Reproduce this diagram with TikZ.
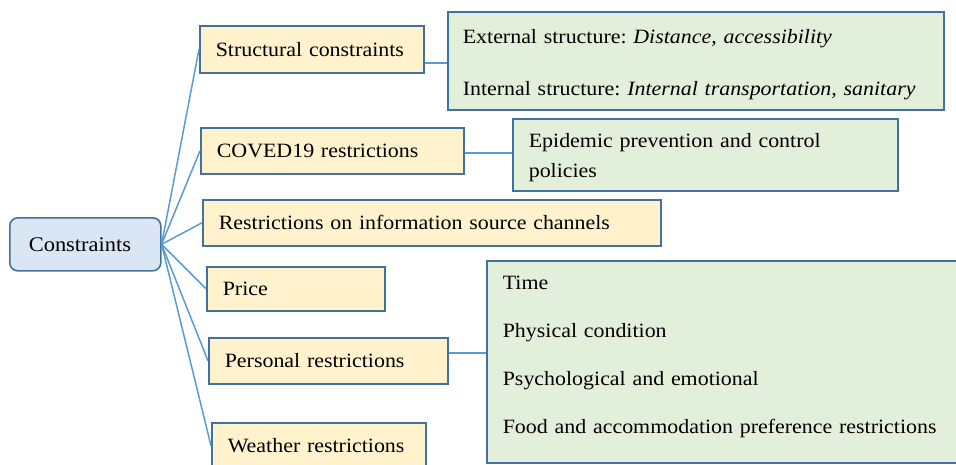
\documentclass[tikz,border=0pt]{standalone}
\usepackage{fontspec}
\setmainfont{Liberation Serif}[FakeStretch=1.08]
\frenchspacing
\definecolor{yfill}{HTML}{FFF2CC}
\definecolor{gfill}{HTML}{E2EFDA}
\definecolor{rootfill}{HTML}{DAE6F4}
\definecolor{boxedge}{HTML}{41719C}
\definecolor{linkblue}{HTML}{5B9BD5}
\begin{document}
\begin{tikzpicture}[x=1pt,y=-1pt,
  box/.style={draw=boxedge, line width=1.6pt, anchor=north west, inner ysep=0pt, inner xsep=16pt, text=black, align=left},
  ybox/.style={box, fill=yfill, font=\fontsize{20.3}{24}\selectfont},
  gbox/.style={box, fill=gfill},
  rootbox/.style={draw=boxedge, line width=1.6pt, fill=rootfill, rounded corners=8pt, anchor=north west, inner ysep=0pt, inner xsep=19pt, align=left, font=\fontsize{20.8}{24}\selectfont},
  link/.style={draw=linkblue, line width=1.5pt}]
\path[use as bounding box] (0,0) rectangle (956,464);
\clip (0,0) rectangle (956,464);

\node[rootbox, text width=113pt, minimum height=53pt] (root) at (9,217) {\mbox{Constraints}};

\node[ybox, text width=192pt, minimum height=47pt] (s1) at (199,25) {\mbox{Structural constraints}};
\node[ybox, text width=231pt, minimum height=46pt] (s2) at (200,127) {\mbox{COVED19 restrictions}};
\node[ybox, text width=426pt, minimum height=46pt] (s3) at (202,199) {\mbox{Restrictions on information source channels}};
\node[ybox, text width=146pt, minimum height=44pt] (s4) at (206,266) {\mbox{Price}};
\node[ybox, text width=207pt, minimum height=46pt] (s5) at (208,337) {\mbox{Personal restrictions}};
\node[ybox, text width=182pt, minimum height=46pt] (s6) at (211,422) {\mbox{Weather restrictions}};

\node[gbox, inner xsep=15pt, text width=466pt, minimum height=98pt, font=\fontsize{20.3}{52}\selectfont] (g1) at (447,11)
  {\rule{0pt}{22pt}External structure: \textit{Distance, accessibility}\\Internal structure: \textit{Internal transportation, sanitary}};
\node[gbox, text width=353pt, minimum height=72pt, font=\fontsize{20.3}{30}\selectfont] (g2) at (512,118)
  {\rule{0pt}{20pt}Epidemic prevention and control\\policies};
\node[gbox, text width=460pt, minimum height=202pt, font=\fontsize{20.3}{48}\selectfont] (g3) at (486,260)
  {Time\\Physical condition\\Psychological and emotional\\Food and accommodation preference restrictions\rule[-14.4pt]{0pt}{1pt}};

\foreach \n in {s1,s2,s3,s4,s5,s6} \draw[link] (root.east) -- (\n.west);

\draw[link] ([yshift=-13.5pt]s1.east) -- ([yshift=-13.5pt]s1.east -| g1.west);
\draw[link] ([yshift=-2pt]s2.east) -- ([yshift=-2pt]s2.east -| g2.west);
\draw[link] ([yshift=8pt]s5.east) -- ([yshift=8pt]s5.east -| g3.west);
\end{tikzpicture}
\end{document}
